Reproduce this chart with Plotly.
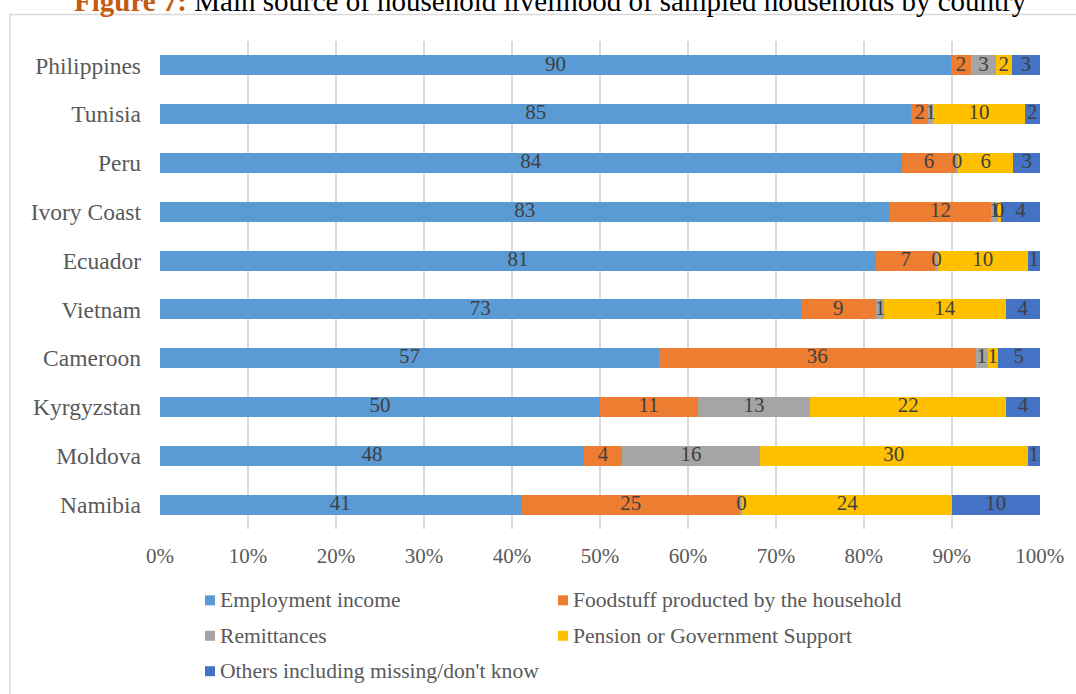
import plotly.graph_objects as go

countries = ["Namibia", "Moldova", "Kyrgyzstan", "Cameroon", "Vietnam",
             "Ecuador", "Ivory Coast", "Peru", "Tunisia", "Philippines"]

employment = [41.0, 48.2, 50.0, 56.7, 72.8, 81.4, 82.9, 84.3, 85.4, 89.9]
foodstuff  = [25.0, 4.3, 11.1, 36.0, 8.6, 6.7, 11.6, 6.2, 1.9, 2.3]
remittance = [0.2, 15.7, 12.8, 1.4, 0.9, 0.3, 0.7, 0.2, 0.6, 2.8]
pension    = [23.8, 30.4, 22.3, 1.1, 13.8, 10.2, 0.4, 6.3, 10.4, 1.8]
others     = [10.0, 1.4, 3.8, 4.8, 3.9, 1.4, 4.4, 3.0, 1.7, 3.2]

series_names = ["Employment income", "Foodstuff producted by the household",
                "Remittances", "Pension or Government Support",
                "Others including missing/don't know"]
series_values = [employment, foodstuff, remittance, pension, others]
colors = ["#5B9BD5", "#ED7D31", "#A5A5A5", "#FFC000", "#4472C4"]

x_ticks = [0, 10, 20, 30, 40, 50, 60, 70, 80, 90, 100]
x_tick_labels = [f"{t}%" for t in x_ticks]

FONT = "Liberation Serif, Times New Roman, serif"
W, H = 1076, 694
L, R, T, B = 160, 36, 40.5, 164.5
PW, PH = W - L - R, H - T - B


def px_x(p):
    return (p - L) / PW


def px_y(p):
    return (H - B - p) / PH


fig = go.Figure()
for name, vals, col in zip(series_names, series_values, colors):
    fig.add_trace(go.Bar(
        y=countries, x=vals, name=name, orientation="h",
        marker=dict(color=col, line=dict(width=0)),
        hoverinfo="skip", showlegend=False,
    ))

# data labels drawn on top of all bars, centred in each segment
base = [0.0] * len(countries)
for name, vals in zip(series_names, series_values):
    mids = [b + v / 2 for b, v in zip(base, vals)]
    fig.add_trace(go.Scatter(
        y=countries, x=mids, mode="text",
        text=[f"{round(v + 1e-9):d}" for v in vals],
        textposition="middle center",
        textfont=dict(family=FONT, size=21, color="#404040"),
        hoverinfo="skip", showlegend=False, cliponaxis=False,
    ))
    base = [b + v for b, v in zip(base, vals)]

shapes = [dict(type="rect", xref="paper", yref="paper",
               x0=px_x(10), x1=px_x(1100), y0=px_y(14), y1=px_y(720),
               line=dict(color="#D9D9D9", width=1.5), fillcolor="rgba(0,0,0,0)",
               layer="below")]
annotations = []

leg_pos = [(205, 601), (558, 601), (205, 636.5), (558, 636.5), (205, 672)]
for (lx, ly), name, col in zip(leg_pos, series_names, colors):
    shapes.append(dict(type="rect", xref="paper", yref="paper",
                       x0=px_x(lx), x1=px_x(lx + 10), y0=px_y(ly - 5), y1=px_y(ly + 5),
                       line=dict(width=0), fillcolor=col))
    annotations.append(dict(xref="paper", yref="paper", x=px_x(lx + 13), y=px_y(ly),
                            xanchor="left", yanchor="middle", showarrow=False,
                            text=name, font=dict(family=FONT, size=21.6, color="#595959")))

annotations.append(dict(
    xref="paper", yref="paper", x=px_x(550), y=px_y(18), xanchor="center", yanchor="bottom",
    showarrow=False,
    text="<b><span style='color:#C55A11'>Figure 7:</span></b> Main source of household livelihood of sampled households by country",
    font=dict(family=FONT, size=29, color="#000000")))

fig.update_layout(
    width=W, height=H, barmode="stack", bargap=0.59,
    margin=dict(l=L, r=R, t=T, b=B),
    paper_bgcolor="white", plot_bgcolor="white",
    shapes=shapes, annotations=annotations, showlegend=False,
    xaxis=dict(range=[0, 100.02], tickvals=x_ticks, ticktext=x_tick_labels,
               showgrid=True, gridcolor="#D9D9D9", gridwidth=1.5, zeroline=False,
               showline=False, ticks="", ticklabelstandoff=12,
               tickfont=dict(family=FONT, size=21, color="#595959"), fixedrange=True),
    yaxis=dict(showgrid=False, zeroline=False, showline=False, ticks="",
               ticklabelstandoff=18,
               tickfont=dict(family=FONT, size=23.5, color="#595959"), fixedrange=True),
)

fig.write_html("out.html")
